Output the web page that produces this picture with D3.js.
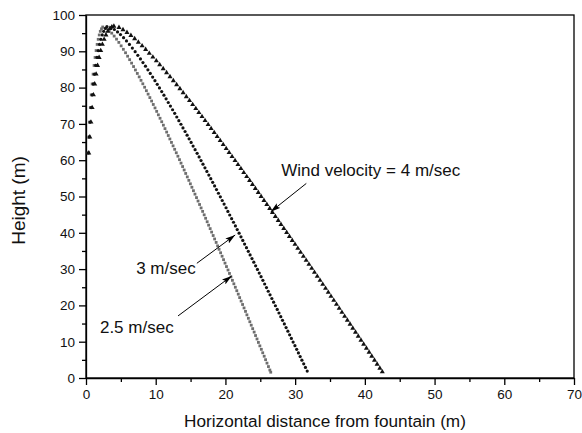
<!DOCTYPE html>
<html>
<head>
<meta charset="utf-8">
<script src="https://cdn.jsdelivr.net/npm/d3@7"></script>
<style>
  html, body { margin: 0; padding: 0; background: #fff; }
  svg { display: block; font-family: Arial, "Liberation Sans", sans-serif; }
</style>
</head>
<body>
<svg id="chart" width="582" height="433"></svg>
<script>
// trajectories: [horizontal distance (m), height (m)]
const wind25 = [[0.30,62.0],[0.40,66.4],[0.50,70.5],[0.62,74.5],[0.75,78.0],[0.88,81.0],[1.02,83.7],[1.16,86.1],[1.30,88.3],[1.45,90.2],[1.60,91.9],[1.75,93.3],[1.90,94.5],[2.05,95.5],[2.22,96.2],
  [2.40,96.7],[2.95,96.3],[3.33,95.7],[3.69,95.0],[4.04,94.2],[4.38,93.35],[4.71,92.45],[5.04,91.5],[5.36,90.55],[5.67,89.6],[5.97,88.65],[6.26,87.7],[6.54,86.75],[6.82,85.8],[7.09,84.85],[7.36,83.9],[7.63,82.95],[7.89,82.0],[8.15,81.05],[8.41,80.1],[8.66,79.15],[8.91,78.2],[9.16,77.25],[9.41,76.3],[9.65,75.35],[9.90,74.4],[10.14,73.45],[10.38,72.5],[10.62,71.55],[10.86,70.6],[11.10,69.65],[11.33,68.7],[11.57,67.75],[11.80,66.8],[12.03,65.85],[12.26,64.9],[12.49,63.95],[12.72,63.0],[12.95,62.05],[13.18,61.1],[13.41,60.15],[13.63,59.2],[13.86,58.25],[14.08,57.3],[14.30,56.35],[14.53,55.4],[14.75,54.45],[14.97,53.5],[15.19,52.55],[15.41,51.6],[15.63,50.65],[15.85,49.7],[16.07,48.75],[16.29,47.8],[16.51,46.85],[16.73,45.9],[16.95,44.95],[17.16,44.0],[17.38,43.05],[17.59,42.1],[17.81,41.15],[18.02,40.2],[18.24,39.25],[18.45,38.3],[18.67,37.35],[18.88,36.4],[19.09,35.45],[19.31,34.5],[19.52,33.55],[19.73,32.6],[19.94,31.65],[20.15,30.7],[20.37,29.75],[20.58,28.8],[20.79,27.85],[21.00,26.9],[21.21,25.95],[21.42,25.0],[21.63,24.05],[21.84,23.1],[22.04,22.15],[22.25,21.2],[22.46,20.25],[22.67,19.3],[22.88,18.35],[23.08,17.4],[23.29,16.45],[23.50,15.5],[23.70,14.55],[23.91,13.6],[24.12,12.65],[24.32,11.7],[24.53,10.75],[24.73,9.8],[24.94,8.85],[25.15,7.9],[25.35,6.95],[25.56,6.0],[25.76,5.05],[25.96,4.1],[26.17,3.15],[26.37,2.2],[26.50,1.6]];

const wind3 = [[0.35,62.0],[0.47,66.4],[0.60,70.5],[0.74,74.5],[0.89,78.0],[1.05,81.0],[1.22,83.7],[1.39,86.1],[1.57,88.3],[1.75,90.2],[1.94,91.9],[2.13,93.3],[2.33,94.5],[2.54,95.5],[2.77,96.3],
  [3.00,96.8],[3.62,96.5],[4.07,96.0],[4.52,95.35],[4.95,94.6],[5.39,93.75],[5.81,92.85],[6.23,91.9],[6.65,90.9],[7.05,89.9],[7.43,88.9],[7.81,87.9],[8.17,86.9],[8.53,85.9],[8.88,84.9],[9.22,83.9],[9.56,82.9],[9.89,81.9],[10.22,80.9],[10.54,79.9],[10.86,78.9],[11.18,77.9],[11.49,76.9],[11.80,75.9],[12.11,74.9],[12.42,73.9],[12.72,72.9],[13.02,71.9],[13.32,70.9],[13.62,69.9],[13.91,68.9],[14.21,67.9],[14.50,66.9],[14.79,65.9],[15.08,64.9],[15.36,63.9],[15.65,62.9],[15.94,61.9],[16.22,60.9],[16.50,59.9],[16.78,58.9],[17.06,57.9],[17.34,56.9],[17.62,55.9],[17.90,54.9],[18.17,53.9],[18.45,52.9],[18.72,51.9],[19.00,50.9],[19.27,49.9],[19.54,48.9],[19.81,47.9],[20.09,46.9],[20.35,45.9],[20.62,44.9],[20.89,43.9],[21.16,42.9],[21.43,41.9],[21.69,40.9],[21.96,39.9],[22.23,38.9],[22.49,37.9],[22.75,36.9],[23.02,35.9],[23.28,34.9],[23.54,33.9],[23.81,32.9],[24.07,31.9],[24.33,30.9],[24.59,29.9],[24.85,28.9],[25.11,27.9],[25.37,26.9],[25.63,25.9],[25.89,24.9],[26.14,23.9],[26.40,22.9],[26.66,21.9],[26.91,20.9],[27.17,19.9],[27.43,18.9],[27.68,17.9],[27.94,16.9],[28.19,15.9],[28.45,14.9],[28.70,13.9],[28.96,12.9],[29.21,11.9],[29.46,10.9],[29.71,9.9],[29.97,8.9],[30.22,7.9],[30.47,6.9],[30.72,5.9],[30.97,4.9],[31.23,3.9],[31.48,2.9],[31.73,1.9]];

const wind4 = [[0.40,62.0],[0.55,66.4],[0.71,70.5],[0.88,74.5],[1.06,78.0],[1.25,81.0],[1.45,83.7],[1.66,86.1],[1.88,88.3],[2.11,90.2],[2.35,91.9],[2.60,93.3],[2.86,94.5],[3.13,95.5],[3.42,96.3],[3.71,96.75],
  [4.00,96.9],[4.73,96.55],[5.31,95.95],[5.88,95.2],[6.44,94.35],[6.98,93.45],[7.51,92.5],[8.05,91.5],[8.56,90.5],[9.08,89.45],[9.59,88.4],[10.09,87.35],[10.57,86.3],[11.07,85.2],[11.56,84.1],[12.05,83.0],[12.53,81.9],[13.00,80.8],[13.47,79.7],[13.93,78.6],[14.39,77.5],[14.85,76.4],[15.30,75.3],[15.75,74.2],[16.19,73.1],[16.64,72.0],[17.08,70.9],[17.52,69.8],[17.95,68.7],[18.39,67.6],[18.82,66.5],[19.25,65.4],[19.68,64.3],[20.11,63.2],[20.53,62.1],[20.95,61.0],[21.38,59.9],[21.80,58.8],[22.22,57.7],[22.63,56.6],[23.05,55.5],[23.47,54.4],[23.88,53.3],[24.29,52.2],[24.71,51.1],[25.12,50.0],[25.53,48.9],[25.94,47.8],[26.35,46.7],[26.75,45.6],[27.16,44.5],[27.57,43.4],[27.97,42.3],[28.37,41.2],[28.78,40.1],[29.18,39.0],[29.58,37.9],[29.98,36.8],[30.38,35.7],[30.78,34.6],[31.18,33.5],[31.58,32.4],[31.98,31.3],[32.38,30.2],[32.77,29.1],[33.17,28.0],[33.57,26.9],[33.96,25.8],[34.36,24.7],[34.75,23.6],[35.14,22.5],[35.54,21.4],[35.93,20.3],[36.32,19.2],[36.71,18.1],[37.10,17.0],[37.49,15.9],[37.88,14.8],[38.27,13.7],[38.66,12.6],[39.05,11.5],[39.44,10.4],[39.83,9.3],[40.22,8.2],[40.61,7.1],[40.99,6.0],[41.38,4.9],[41.76,3.8],[42.15,2.7],[42.50,1.7]];

const xTicks = [0, 10, 20, 30, 40, 50, 60, 70];
const yTicks = [0, 10, 20, 30, 40, 50, 60, 70, 80, 90, 100];

// labels with arrow start and tip, in data units
const notes = [
  { text: 'Wind velocity = 4 m/sec', tx: 28.0, ty: 55.6, from: [31.6, 53.6], to: [26.5, 45.8] },
  { text: '3 m/sec', tx: 7.2, ty: 28.7, from: [15.9, 31.6], to: [21.4, 39.4] },
  { text: '2.5 m/sec', tx: 2.0, ty: 12.4, from: [13.2, 17.1], to: [20.9, 28.1] }
];

const svg = d3.select('#chart'),
      m = {top: 15, right: 8, bottom: 55, left: 86},
      w = 582 - m.left - m.right,
      h = 433 - m.top - m.bottom,
      g = svg.append('g').attr('transform', `translate(${m.left},${m.top})`);

const x = d3.scaleLinear().domain([0, 70]).range([0, w]),
      y = d3.scaleLinear().domain([0, 100]).range([h, 0]);

// arrow head
svg.append('defs').append('marker')
  .attr('id', 'head').attr('viewBox', '0 0 10 6')
  .attr('refX', 10).attr('refY', 3)
  .attr('markerWidth', 10).attr('markerHeight', 6)
  .attr('markerUnits', 'userSpaceOnUse').attr('orient', 'auto')
  .append('path').attr('d', 'M0,0 L10,3 L0,6 L2,3 Z').attr('fill', '#000');

// frame
g.append('rect').attr('width', w).attr('height', h)
  .attr('fill', 'none').attr('stroke', '#000').attr('stroke-width', 1.3);

// minor ticks
g.append('g').attr('transform', `translate(0,${h})`)
  .call(d3.axisBottom(x).tickValues(d3.range(5, 70, 10)).tickSize(4).tickFormat(''))
  .call(a => a.select('.domain').remove());
g.append('g')
  .call(d3.axisLeft(y).tickValues(d3.range(5, 100, 10)).tickSize(4).tickFormat(''))
  .call(a => a.select('.domain').remove());

// major axes
const xAxis = g.append('g').attr('transform', `translate(0,${h})`)
  .call(d3.axisBottom(x).tickValues(xTicks).tickSize(7).tickPadding(4).tickSizeOuter(0));
const yAxis = g.append('g')
  .call(d3.axisLeft(y).tickValues(yTicks).tickSize(7).tickPadding(4).tickSizeOuter(0));
[xAxis, yAxis].forEach(a => {
  a.selectAll('line, .domain').attr('stroke', '#000').attr('stroke-width', 1.3);
  a.selectAll('text').attr('font-size', 13.5).attr('fill', '#111')
    .attr('font-family', 'Arial, "Liberation Sans", sans-serif');
});
g.selectAll('.tick line').attr('stroke-width', 1.3);

// axis titles
svg.append('text').attr('x', m.left + w / 2 - 5).attr('y', 427)
  .attr('text-anchor', 'middle').attr('font-size', 17.2).attr('fill', '#111')
  .text('Horizontal distance from fountain (m)');
svg.append('text').attr('transform', `translate(25,${m.top + h / 2 + 4}) rotate(-90)`)
  .attr('text-anchor', 'middle').attr('font-size', 19).attr('fill', '#111')
  .text('Height (m)');

// series
g.append('g').selectAll('rect').data(wind25).enter().append('rect')
  .attr('x', d => x(d[0]) - 1.4).attr('y', d => y(d[1]) - 1.4)
  .attr('width', 2.8).attr('height', 2.8).attr('fill', '#6e6e6e');

g.append('g').selectAll('circle').data(wind3).enter().append('circle')
  .attr('cx', d => x(d[0])).attr('cy', d => y(d[1])).attr('r', 1.6).attr('fill', '#111');

const tri = d3.symbol().type(d3.symbolTriangle).size(11);
g.append('g').selectAll('path').data(wind4).enter().append('path')
  .attr('transform', d => `translate(${x(d[0])},${y(d[1])})`)
  .attr('d', tri).attr('fill', '#111');

// annotations
const ann = g.append('g');
notes.forEach(n => {
  ann.append('text').attr('x', x(n.tx)).attr('y', y(n.ty))
    .attr('font-size', 17).attr('fill', '#111').text(n.text);
  ann.append('line')
    .attr('x1', x(n.from[0])).attr('y1', y(n.from[1]))
    .attr('x2', x(n.to[0])).attr('y2', y(n.to[1]))
    .attr('stroke', '#000').attr('stroke-width', 1).attr('marker-end', 'url(#head)');
});
</script>
</body>
</html>
